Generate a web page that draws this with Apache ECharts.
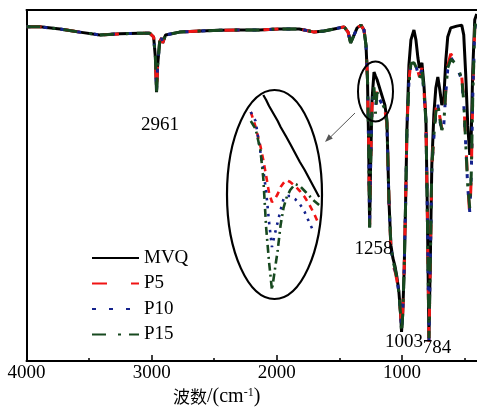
<!DOCTYPE html>
<html>
<head>
<meta charset="utf-8">
<script src="https://cdn.jsdelivr.net/npm/echarts@6/dist/echarts.min.js"></script>
<style>
  html, body { margin: 0; padding: 0; background: #fff; }
  #chart { width: 477px; height: 409px; }
</style>
</head>
<body>
<div id="chart"></div>
<script>
// FTIR transmittance spectra of MVQ and the P5 / P10 / P15 composites
const wavenumber = [
  4000, 3892, 3733, 3574, 3414, 3255, 3096, 3016, 2984, 2970, 2961, 2952, 2936, 2920, 2912, 2889, 2777, 2618, 2458, 2299,
  2140, 1980, 1821, 1741, 1701, 1622, 1542, 1462, 1430, 1410, 1382, 1358, 1327, 1303, 1287, 1275, 1266, 1258, 1251,
  1239, 1223, 1211, 1199, 1168, 1136, 1120, 1104, 1088, 1072, 1056, 1040, 1024, 1010, 1003, 994, 982, 970, 960, 944,
  928, 904, 888, 872, 860, 840, 824, 808, 797, 784, 773, 761, 745, 729, 713, 697, 681, 665, 649, 634,
  610, 562, 522, 506, 490, 474, 458, 446, 434, 418, 402
];
const mvq = [
  95.2, 95.2, 94.6, 93.7, 92.9, 93.2, 93.4, 93.4, 92.3, 86.5, 76.6, 84.3, 90.9, 92.0, 90.6, 92.9, 93.7, 94.0, 94.2, 94.3,
  94.3, 94.6, 94.6, 94.0, 93.7, 94.0, 94.6, 95.2, 93.7, 90.6, 92.9, 94.9, 95.7, 94.3, 90.0, 80.1, 62.0, 38.2, 54.4,
  74.4, 82.3, 81.2, 80.2, 76.6, 72.9, 68.7, 45.9, 33.0, 29.3, 27.1, 23.9, 19.7, 13.1, 8.3, 13.1, 25.9, 45.9, 65.8, 84.3,
  91.5, 94.3, 91.5, 86.3, 83.5, 84.9, 78.6, 68.7, 43.0, 6.6, 28.8, 55.8, 70.1, 77.8, 80.9, 77.2, 72.9, 75.0, 85.8, 92.3,
  94.9, 95.4, 95.7, 92.9, 81.5, 67.2, 58.7, 64.4, 82.9, 97.2, 98.9
];
const p5 = [
  95.2, 95.2, 94.6, 93.7, 92.9, 93.2, 93.4, 93.4, 92.3, 86.5, 76.6, 84.3, 90.9, 92.0, 90.6, 92.9, 93.7, 94.0, 94.2, 94.3,
  94.3, 94.6, 94.6, 94.0, 93.7, 94.0, 94.6, 95.2, 93.7, 90.6, 92.9, 94.9, 95.7, 94.3, 90.0, 80.1, 62.0, 38.8, 54.4,
  72.5, 78.5, 74.5, 77.0, 74.8, 71.5, 67.5, 46.5, 32.0, 27.0, 25.8, 23.0, 19.0, 13.5, 9.0, 13.5, 26.0, 46.0, 66.0, 80.0,
  85.5, 86.5, 84.5, 82.5, 81.0, 83.5, 77.0, 68.0, 43.0, 5.5, 28.5, 55.0, 64.5, 71.5, 74.5, 69.5, 66.0, 68.5, 77.5, 84.0,
  87.5, 85.0, 81.0, 74.5, 62.5, 50.5, 41.5, 52.0, 75.5, 95.0, 98.0
];
const p10 = [
  95.2, 95.2, 94.6, 93.7, 92.9, 93.2, 93.4, 93.4, 92.3, 86.5, 76.6, 84.3, 90.9, 92.0, 90.6, 92.9, 93.7, 94.0, 94.2, 94.3,
  94.3, 94.6, 94.6, 94.0, 93.7, 94.0, 94.6, 95.2, 93.7, 90.6, 92.9, 94.9, 95.7, 94.3, 90.0, 80.1, 62.0, 38.5, 54.4,
  72.0, 77.5, 72.0, 76.0, 73.8, 71.0, 67.8, 46.0, 32.5, 28.0, 26.0, 23.5, 19.3, 13.3, 8.8, 13.3, 26.0, 46.0, 66.0, 79.5,
  85.0, 85.5, 84.0, 82.0, 80.5, 83.0, 76.5, 68.0, 43.0, 6.0, 28.6, 55.2, 63.5, 70.5, 73.0, 68.5, 65.5, 67.5, 76.5, 83.0,
  86.5, 84.0, 80.0, 73.5, 61.5, 49.5, 42.5, 52.5, 75.0, 94.5, 97.8
];
const p15 = [
  95.2, 95.2, 94.6, 93.7, 92.9, 93.2, 93.4, 93.4, 92.3, 86.5, 76.6, 84.3, 90.9, 92.0, 90.6, 92.9, 93.7, 94.0, 94.2, 94.3,
  94.3, 94.6, 94.6, 94.0, 93.7, 94.0, 94.6, 95.2, 93.7, 90.6, 92.9, 94.9, 95.7, 94.3, 90.0, 80.1, 62.0, 38.0, 54.4,
  72.3, 78.0, 70.5, 76.5, 74.2, 71.8, 68.0, 46.2, 32.8, 28.5, 26.5, 23.6, 19.5, 13.0, 8.2, 13.1, 25.9, 45.9, 65.8, 79.0,
  84.8, 85.0, 83.8, 81.8, 80.5, 83.0, 76.8, 68.2, 43.0, 6.5, 28.8, 55.5, 64.0, 71.0, 73.5, 69.0, 65.8, 68.0, 77.0, 83.5,
  86.0, 84.5, 80.5, 74.0, 62.0, 50.0, 43.5, 53.0, 75.0, 94.8, 98.0
];

// Magnified view of the 1235-1160 cm-1 band (shown inside the large ellipse)
const insetWavenumber = [1234, 1229, 1224, 1221, 1218, 1215, 1212, 1209, 1206, 1203, 1200, 1197, 1193, 1188, 1183, 1178, 1173, 1168, 1163];
const insetMVQ = [null, null, null, 83.5, 83.0, 82.4, 81.9, 81.4, 80.9, 80.3, 79.8, 79.3, 78.6, 77.7, 76.8, 76.0, 75.1, 74.2, 73.3];
const insetP5  = [81.8, 80.3, 78.4, 77.0, 75.4, 73.7, 72.8, 73.1, 73.6, 74.3, 74.7, 75.0, 74.8, 74.4, 73.9, 73.3, 72.5, 71.6, 70.5];
const insetP10 = [81.8, 80.9, 77.8, 76.0, 73.8, 70.8, 68.3, 69.6, 70.8, 72.0, 73.1, 73.4, 73.4, 73.1, 72.6, 71.8, 70.7, 69.7, null];
const insetP15 = [80.9, 80.1, 78.0, 75.2, 70.2, 66.8, 64.0, 66.0, 68.0, 70.5, 72.2, 73.2, 74.0, 74.6, 74.4, 73.9, 73.4, 72.9, 72.5];

const tickValues = [4000, 3000, 2000, 1000];
const minorTickValues = [3500, 2500, 1500, 500];
const seriesNames = ['MVQ', 'P5', 'P10', 'P15'];
const peakLabels = ['2961', '1258', '1003', '784'];

const serif = '"Liberation Serif", "Times New Roman", serif';
const cjk = '"Noto Sans CJK SC", sans-serif';

const colors = { MVQ: '#000000', P5: '#f01414', P10: '#14228c', P15: '#17491f' };
const dashes = { MVQ: 'solid', P5: [15, 24], P10: [4, 13], P15: [14, 12, 3, 8] };
const insetDashes = { MVQ: 'solid', P5: [6, 5], P10: [2.5, 5.5], P15: [8, 4, 2, 4] };

const pairs = (xs, ys) => xs.map((x, i) => [x, ys[i]]);
const mainValues = { MVQ: mvq, P5: p5, P10: p10, P15: p15 };
const insetValues = { MVQ: insetMVQ, P5: insetP5, P10: insetP10, P15: insetP15 };

const series = [];
seriesNames.forEach((name, i) => {
  series.push({
    name, type: 'line', xAxisIndex: 0, yAxisIndex: 0,
    data: pairs(wavenumber, mainValues[name]),
    symbol: 'none', z: 2 + i,
    lineStyle: { color: colors[name], width: 3, type: dashes[name] },
    itemStyle: { color: colors[name] }
  });
});
seriesNames.forEach((name, i) => {
  series.push({
    name, type: 'line', xAxisIndex: 3, yAxisIndex: 1,
    data: pairs(insetWavenumber, insetValues[name]),
    symbol: 'none', z: 2 + i, connectNulls: false,
    lineStyle: { color: colors[name], width: name === 'MVQ' ? 2.2 : 2.6, type: insetDashes[name] },
    itemStyle: { color: colors[name] }
  });
});

const peakPos = [[160, 125], [373.5, 249], [404, 342.5], [437, 348]];
const graphics = peakLabels.map((t, i) => ({
  type: 'text', x: peakPos[i][0], y: peakPos[i][1], z: 100,
  style: { text: t, fontSize: 19, fontFamily: serif, fill: '#000', textAlign: 'center', textVerticalAlign: 'middle' }
}));
graphics.push(
  { type: 'ellipse', z: 100, shape: { cx: 375.5, cy: 91.5, rx: 17.5, ry: 30 },
    style: { fill: 'none', stroke: '#000', lineWidth: 2 } },
  { type: 'ellipse', z: 100, shape: { cx: 274.5, cy: 194.5, rx: 47.5, ry: 104.5 },
    style: { fill: 'none', stroke: '#000', lineWidth: 2.2 } },
  { type: 'line', z: 100, shape: { x1: 355, y1: 113, x2: 329, y2: 138.5 },
    style: { stroke: '#555', lineWidth: 1 } },
  { type: 'polygon', z: 100, shape: { points: [[325, 142], [332.8, 138.6], [328.7, 134.3]] },
    style: { fill: '#555' } },
  { type: 'text', x: 173, y: 397, z: 100,
    style: {
      text: '{cn|波数}{en|/(cm}{sup|-1}{en|)}',
      textVerticalAlign: 'middle', fill: '#000',
      rich: {
        cn: { fontFamily: cjk, fontSize: 17, fill: '#000' },
        en: { fontFamily: serif, fontSize: 20, fill: '#000' },
        sup: { fontFamily: serif, fontSize: 12, fill: '#000', verticalAlign: 'top' }
      }
    } }
);

const chart = echarts.init(document.getElementById('chart'), null, { renderer: 'canvas' });
chart.setOption({
  animation: false,
  backgroundColor: '#ffffff',
  grid: [
    { left: 26.5, top: 10, width: 451.8, height: 351 },
    { left: 245, top: 90, width: 77, height: 210 }
  ],
  legend: {
    data: seriesNames, orient: 'vertical', left: 86, top: 243.5,
    itemWidth: 47, itemHeight: 19, itemGap: 6.5, selectedMode: false,
    itemStyle: { opacity: 0 },
    textStyle: { fontFamily: serif, fontSize: 19, color: '#000' }
  },
  xAxis: [
    { gridIndex: 0, type: 'value', min: 400, max: 4000, inverse: true, position: 'bottom',
      axisLine: { show: true, onZero: false, lineStyle: { color: '#000', width: 2 } },
      axisTick: { show: true, inside: true, length: 6, customValues: tickValues, lineStyle: { color: '#000', width: 1.5 } },
      axisLabel: { show: true, customValues: tickValues, margin: 3, fontFamily: serif, fontSize: 19, color: '#000',
        showMinLabel: true, showMaxLabel: true, formatter: (v) => String(v) },
      splitLine: { show: false } },
    { gridIndex: 0, type: 'value', min: 400, max: 4000, inverse: true, position: 'top',
      axisLine: { show: true, onZero: false, lineStyle: { color: '#000', width: 2 } },
      axisTick: { show: false }, axisLabel: { show: false }, splitLine: { show: false } },
    { gridIndex: 0, type: 'value', min: 400, max: 4000, inverse: true, position: 'bottom',
      axisLine: { show: false, onZero: false },
      axisTick: { show: true, inside: true, length: 3, customValues: minorTickValues, lineStyle: { color: '#000', width: 1.5 } },
      axisLabel: { show: false }, splitLine: { show: false } },
    { gridIndex: 1, type: 'value', min: 1160, max: 1240, inverse: true, show: false }
  ],
  yAxis: [
    { gridIndex: 0, type: 'value', min: 0, max: 100,
      axisLine: { show: true, onZero: false, lineStyle: { color: '#000', width: 2 } },
      axisTick: { show: false }, axisLabel: { show: false }, splitLine: { show: false } },
    { gridIndex: 1, type: 'value', min: 63, max: 84, show: false }
  ],
  series,
  graphic: graphics
});
</script>
</body>
</html>
